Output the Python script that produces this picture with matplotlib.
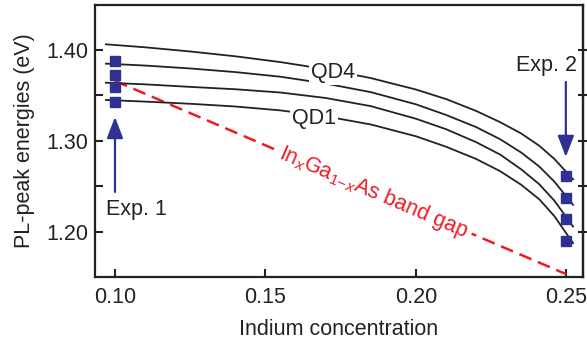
import numpy as np
import matplotlib
matplotlib.use('Agg')
import matplotlib.pyplot as plt

plt.rcParams['font.family'] = ['Liberation Sans', 'DejaVu Sans']
plt.rcParams['mathtext.fontset'] = 'custom'
plt.rcParams['mathtext.rm'] = 'Liberation Sans'
plt.rcParams['mathtext.it'] = 'Liberation Sans:italic'

# ============================================================
# Data
# ============================================================
indium_x = [0.097, 0.110, 0.125, 0.140, 0.155, 0.170, 0.185, 0.200,
            0.210, 0.220, 0.228, 0.235, 0.241, 0.246, 0.2522]
qd4 = [1.4063, 1.4030, 1.3984, 1.3931, 1.3867, 1.3789, 1.3691, 1.3565,
       1.3460, 1.3329, 1.3205, 1.3080, 1.2945, 1.2800, 1.2576]
qd3 = [1.3850, 1.3829, 1.3797, 1.3757, 1.3706, 1.3631, 1.3536, 1.3402,
       1.3285, 1.3151, 1.3017, 1.2870, 1.2716, 1.2550, 1.2295]
qd2 = [1.3640, 1.3622, 1.3594, 1.3568, 1.3532, 1.3472, 1.3382, 1.3243,
       1.3128, 1.2985, 1.2848, 1.2685, 1.2521, 1.2340, 1.2056]
qd1 = [1.3450, 1.3432, 1.3408, 1.3378, 1.3335, 1.3270, 1.3180, 1.3050,
       1.2935, 1.2800, 1.2665, 1.2515, 1.2355, 1.2170, 1.1873]

exp1_x = [0.10, 0.10, 0.10, 0.10]
exp1_y = [1.388, 1.3725, 1.359, 1.343]
exp2_x = [0.2498, 0.2498, 0.2498, 0.2498]
exp2_y = [1.2613, 1.2372, 1.214, 1.190]

gap_x = [0.10, 0.25]
gap_y = [1.366, 1.153]

xticks = [0.10, 0.15, 0.20, 0.25]
yticks = [1.20, 1.30, 1.40]
yticks_minor = [1.25, 1.35]

BLUE = '#2e3192'
RED = '#ed1c24'
DARK = '#222222'
FS = 15.5

fig = plt.figure(figsize=(5.87, 3.41), dpi=100)
ax = fig.add_axes([95 / 587, 64 / 341, 488 / 587, 272 / 341])
ax.set_xlim(0.09336, 0.2555)
ax.set_ylim(1.15, 1.4496)

# QD curves
for ys in (qd4, qd3, qd2, qd1):
    ax.plot(indium_x, ys, color=DARK, lw=1.3, zorder=3)

# band gap line
ax.plot(gap_x, gap_y, color=RED, lw=1.8, dashes=(5.2, 2.8), zorder=2)

# experimental points
ax.plot(exp1_x, exp1_y, 's', color=BLUE, ms=6.5, zorder=5)
ax.plot(exp2_x, exp2_y, 's', color=BLUE, ms=6.5, zorder=5)

# arrows
arrow = dict(arrowstyle='-|>,head_width=0.5,head_length=1.3', color=BLUE,
             lw=1.6, mutation_scale=10, shrinkA=0, shrinkB=0)
ax.annotate('', xy=(0.10, 1.3263), xytext=(0.10, 1.2437), arrowprops=arrow)
ax.annotate('', xy=(0.2498, 1.2822), xytext=(0.2498, 1.3648), arrowprops=arrow)

ax.text(0.107, 1.2238, 'Exp. 1', fontsize=FS, ha='center', va='center', color=DARK)
ax.text(0.2435, 1.3835, 'Exp. 2', fontsize=FS, ha='center', va='center', color=DARK)

# curve labels
white = dict(facecolor='white', edgecolor='none', pad=1.5)
ax.text(0.1724, 1.375, 'QD4', fontsize=FS, ha='center', va='center',
        bbox=white, zorder=4, color=DARK)
ax.text(0.1661, 1.3248, 'QD1', fontsize=FS, ha='center', va='center',
        bbox=white, zorder=4, color=DARK)

# band gap label, rotated along the dashed line
p0 = ax.transData.transform((gap_x[0], gap_y[0]))
p1 = ax.transData.transform((gap_x[1], gap_y[1]))
angle = np.degrees(np.arctan2(p1[1] - p0[1], p1[0] - p0[0]))
ax.text(0.1857, 1.2436, r'In$_{\mathit{x}}$Ga$_{\mathit{1\!-\!x}}$As band gap',
        fontsize=FS, color=RED, ha='center', va='center', rotation=angle,
        rotation_mode='anchor', bbox=dict(facecolor='white', edgecolor='none', pad=4),
        zorder=2.5)

# axes styling
ax.set_xticks(xticks)
ax.set_xticklabels([f'{t:.2f}' for t in xticks])
ax.set_yticks(yticks)
ax.set_yticklabels([f'{t:.2f}' for t in yticks])
ax.set_yticks(yticks_minor, minor=True)
ax.tick_params(axis='both', which='both', direction='in', length=6, width=1.5,
               labelsize=FS, color=DARK, labelcolor=DARK)
ax.tick_params(axis='x', pad=7)
ax.tick_params(axis='y', pad=5)

# right-hand ticks cross the frame
rax = ax.secondary_yaxis('right')
rax.set_yticks(yticks + yticks_minor)
rax.set_yticklabels([])
rax.tick_params(direction='inout', length=6.5, width=1.5, color=DARK)
rax.spines['right'].set_linewidth(1.6)
rax.spines['right'].set_color(DARK)

for s in ax.spines.values():
    s.set_linewidth(1.6)
    s.set_color(DARK)

ax.set_xlabel('Indium concentration', fontsize=FS, labelpad=8, color=DARK)
ax.set_ylabel('PL-peak energies (eV)', fontsize=FS, labelpad=8, color=DARK)

fig.savefig('out.png', dpi=100)
